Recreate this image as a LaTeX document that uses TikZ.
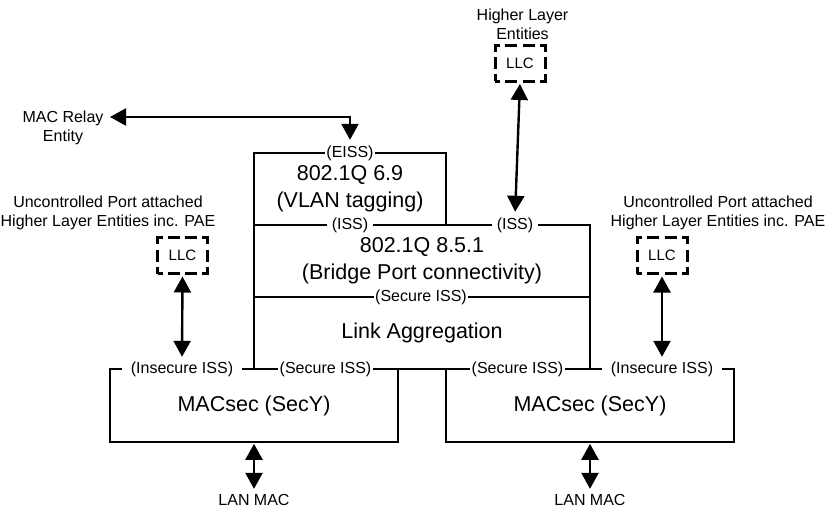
\documentclass[tikz,border=0pt]{standalone}
\usepackage{fontspec}
\setmainfont{Liberation Sans}
\usetikzlibrary{arrows.meta}
\begin{document}
\begin{tikzpicture}[x=1pt,y=-1pt,
  box/.style={draw,line width=1.6pt,inner sep=0pt,align=center,font=\fontsize{21.5}{27}\selectfont},
  lbl/.style={fill=white,inner ysep=1pt,text height=11pt,text depth=3pt,font=\fontsize{16}{19}\selectfont},
  small/.style={align=center,inner sep=0pt,font=\fontsize{16}{19}\selectfont},
  llc/.style={draw,line width=3pt,dash pattern=on 12pt off 5.2pt,dash phase=6.8pt,minimum width=50pt,minimum height=36pt,inner sep=0pt,font=\fontsize{15}{18}\selectfont},
  biarrow/.style={line width=2.4pt,{Triangle[length=16pt,width=17pt]}-{Triangle[length=16pt,width=17pt]}}]
\useasboundingbox (0,0) rectangle (831,512);
% boxes
\node[box,minimum width=192pt,minimum height=72pt] (vlan) at (350,189) {802.1Q 6.9\\(VLAN tagging)};
\node[box,minimum width=336pt,minimum height=72pt] (bridge) at (422,261) {802.1Q 8.5.1\\(Bridge Port connectivity)};
\node[box,minimum width=336pt,minimum height=72pt] (la) at (422,333) {Link Aggregation};
\node[box,minimum width=288pt,minimum height=73pt] (secL) at (254,405.5) {MACsec (SecY)};
\node[box,minimum width=288pt,minimum height=73pt] (secR) at (590,405.5) {MACsec (SecY)};
% interface labels
\node[lbl,inner xsep=1pt] (eiss) at (350,153) {(EISS)};
\node[lbl,inner xsep=5pt] (issL) at (350,225) {(ISS)};
\node[lbl,inner xsep=5pt] (issR) at (515,225) {(ISS)};
\node[lbl,inner xsep=1.5pt] (sissT) at (421,297) {(Secure ISS)};
\node[lbl,inner xsep=9pt] (insL) at (182,369) {(Insecure ISS)};
\node[lbl,inner xsep=1.5pt] (sissL) at (325.5,369) {(Secure ISS)};
\node[lbl,inner xsep=1.5pt] (sissR) at (517.5,369) {(Secure ISS)};
\node[lbl,inner xsep=9pt] (insR) at (662,369) {(Insecure ISS)};
% LLC boxes
\node[llc] (llcT) at (520,63) {LLC};
\node[llc] (llcL) at (182.5,255.5) {LLC};
\node[llc] (llcR) at (662,255.5) {LLC};
% free texts
\node[small] (hle) at (522.5,24) {Higher Layer\\Entities};
\node[small] (relay) at (63,128) {MAC Relay\\Entity};
\node[small] (uncL) at (108,213) {Uncontrolled Port attached\\Higher Layer Entities inc. PAE};
\node[small] (uncR) at (718,213) {Uncontrolled Port attached\\Higher Layer Entities inc. PAE};
\node[lbl] (lanL) at (254,501) {LAN MAC};
\node[lbl] (lanR) at (590,501) {LAN MAC};
\coordinate (relayEnd) at (110,117);
% arrows
\draw[biarrow,shorten >=5pt] (relayEnd) -| (eiss.north);
\draw[biarrow,shorten <=1.5pt,shorten >=5pt] (llcT.south) -- (issR.north);
\draw[biarrow,shorten <=1.5pt,shorten >=4pt] (llcL.south) -- (insL.north);
\draw[biarrow,shorten <=1.5pt,shorten >=4pt] (llcR.south) -- (insR.north);
\draw[biarrow,shorten <=1pt,shorten >=4pt] (secL.south) -- (lanL.north);
\draw[biarrow,shorten <=1pt,shorten >=4pt] (secR.south) -- (lanR.north);
\end{tikzpicture}
\end{document}
